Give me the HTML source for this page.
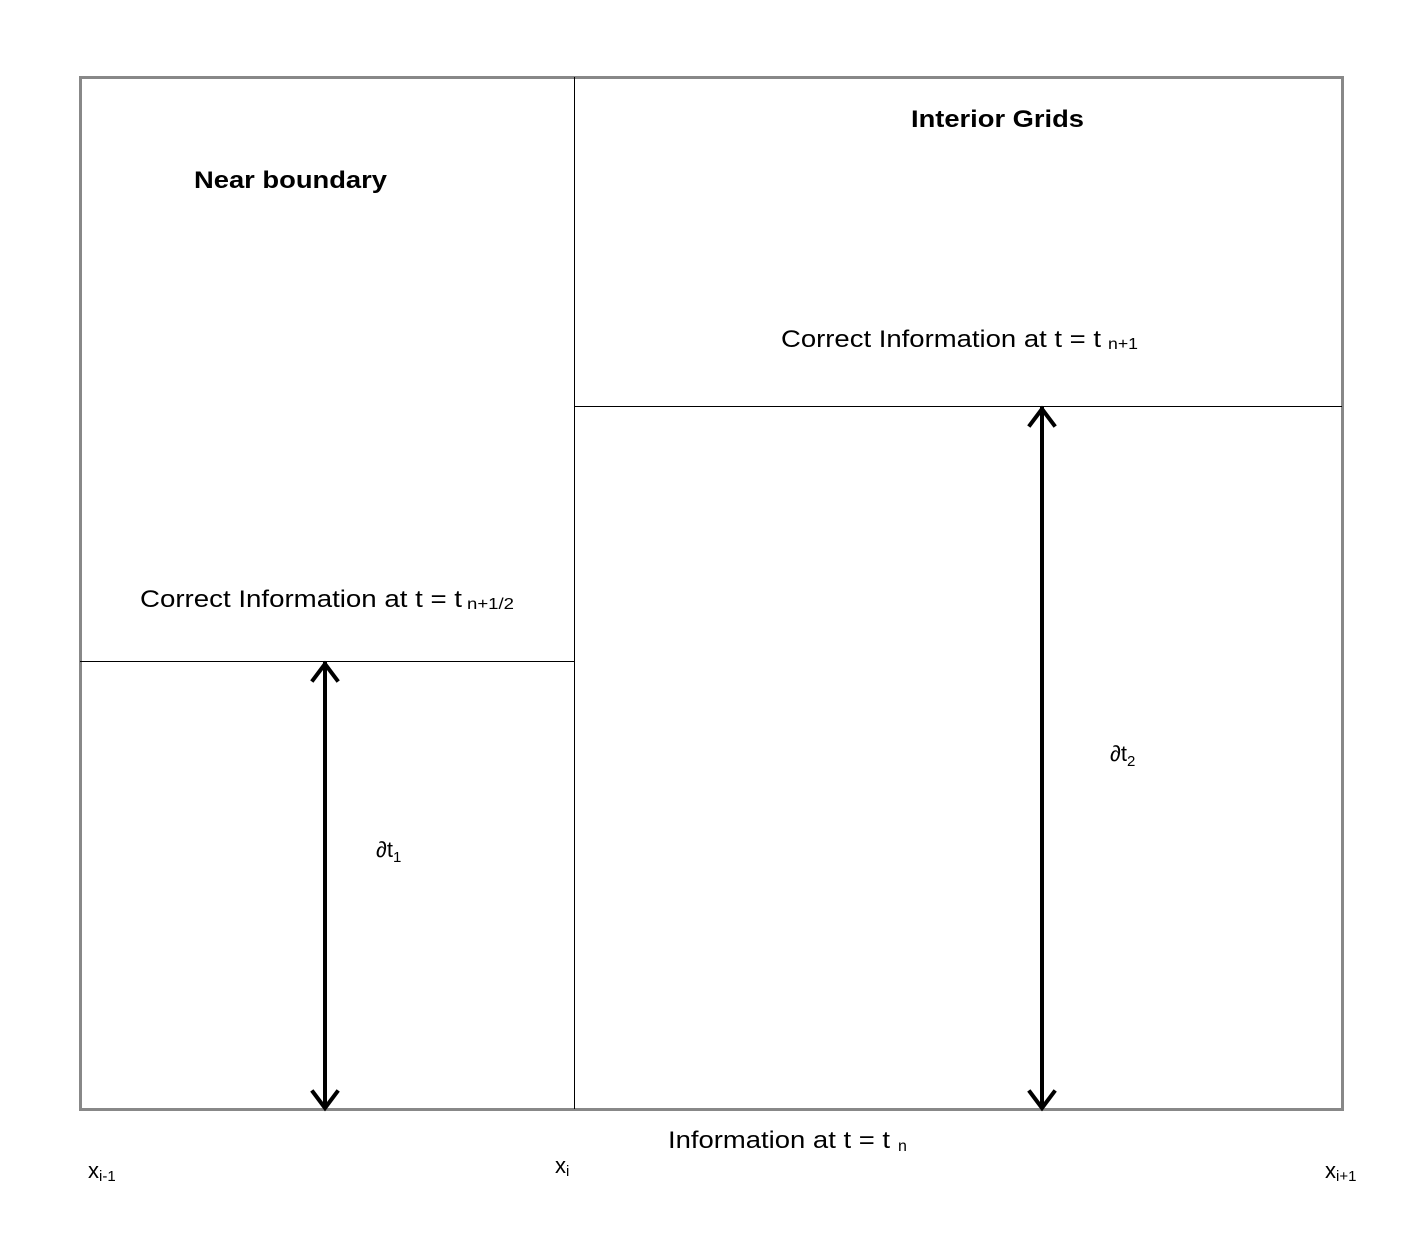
<!DOCTYPE html>
<html><head><meta charset="utf-8"><style>body{margin:0;background:#fff}svg{display:block}text{font-family:"Liberation Sans",Arial,sans-serif;fill:#000}</style></head>
<body>
<svg width="1412" height="1242" xmlns="http://www.w3.org/2000/svg">
<rect x="80.5" y="77.5" width="1262" height="1032" fill="none" stroke="#888" stroke-width="3"/>
<line x1="574.5" y1="77" x2="574.5" y2="1109" stroke="#000" stroke-width="1"/>
<line x1="80" y1="661.5" x2="574" y2="661.5" stroke="#000" stroke-width="1"/>
<line x1="574" y1="406.5" x2="1342" y2="406.5" stroke="#000" stroke-width="1"/>
<g stroke="#000" stroke-width="4" fill="none" stroke-linecap="square">
<line x1="325" y1="664" x2="325" y2="1107"/>
<polyline points="313,680 325,664 337,680"/>
<polyline points="313,1092 325,1108 337,1092"/>
<line x1="1042" y1="409" x2="1042" y2="1107"/>
<polyline points="1030,425 1042,409 1054,425"/>
<polyline points="1030,1092 1042,1108 1054,1092"/>
</g>
<text x="194" y="188" font-size="24" font-weight="bold" textLength="193" lengthAdjust="spacingAndGlyphs">Near boundary</text>
<text x="911" y="127" font-size="24" font-weight="bold" textLength="173" lengthAdjust="spacingAndGlyphs">Interior Grids</text>
<text x="781" y="347" font-size="24" textLength="320" lengthAdjust="spacingAndGlyphs">Correct Information at t = t</text>
<text x="1108" y="349" font-size="16" textLength="30" lengthAdjust="spacingAndGlyphs">n+1</text>
<text x="140" y="607" font-size="24" textLength="322" lengthAdjust="spacingAndGlyphs">Correct Information at t = t</text>
<text x="467" y="609" font-size="16" textLength="47" lengthAdjust="spacingAndGlyphs">n+1/2</text>
<text x="668" y="1148" font-size="24" textLength="222" lengthAdjust="spacingAndGlyphs">Information at t = t</text>
<text x="898" y="1151" font-size="16">n</text>
<text x="376" y="857" font-size="22">∂t<tspan font-size="15" dy="5">1</tspan></text>
<text x="1110" y="761" font-size="22">∂t<tspan font-size="15" dy="5">2</tspan></text>
<text x="88" y="1178" font-size="22">x<tspan font-size="15" dy="3">i-1</tspan></text>
<text x="555" y="1173" font-size="22">x<tspan font-size="15" dy="3">i</tspan></text>
<text x="1325" y="1178" font-size="22">x<tspan font-size="15" dy="3">i+1</tspan></text>
</svg>
</body></html>
